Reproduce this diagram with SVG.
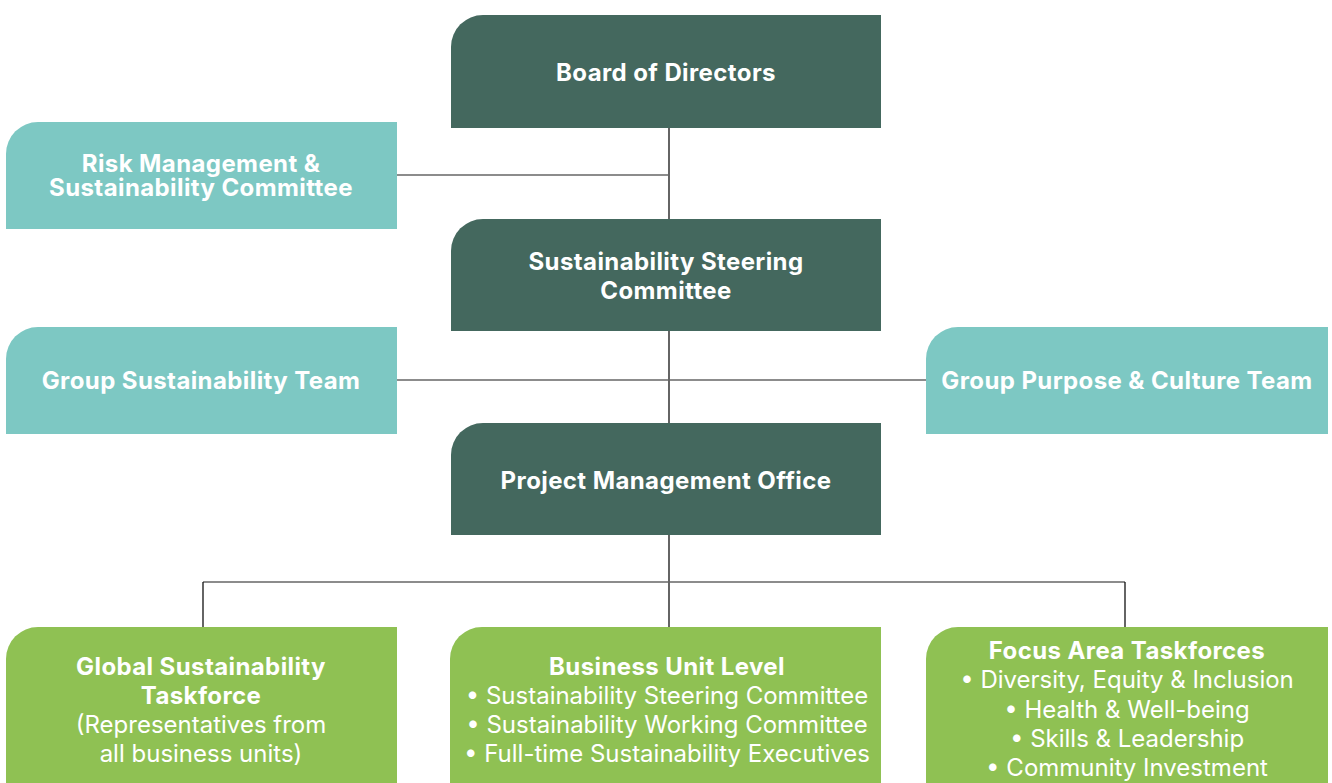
<svg xmlns="http://www.w3.org/2000/svg" width="1332" height="783" viewBox="0 0 1332 783">
<style>
.dark{fill:#44685E}
.teal{fill:#7DC8C3}
.green{fill:#8FC153}
.h{font-family:Inter,"Liberation Sans",sans-serif;font-weight:700;font-size:24px;letter-spacing:0.4px;fill:#fff;text-anchor:middle}
.r{font-family:Inter,"Liberation Sans",sans-serif;font-weight:400;font-size:24px;fill:#fff;text-anchor:middle}
.v{stroke:#111;stroke-width:1.3;fill:none}
.hz{stroke:#666;stroke-width:1.5;fill:none}
</style>
<rect width="1332" height="783" fill="#fff"/>
<g id="connectors">
<path class="v" d="M669 128V219"/>
<path class="hz" d="M397 175H669"/>
<path class="v" d="M669 331V423"/>
<path class="hz" d="M397 380H926"/>
<path class="v" d="M669 535V628"/>
<path class="hz" d="M203 582H1125"/>
<path class="v" d="M203 582V628"/>
<path class="v" d="M1125 582V628"/>
</g>
<g id="board">
<path class="dark" d="M483 15H881V128H451V47A32 32 0 0 1 483 15Z"/>
<text class="h" x="666" y="81">Board of Directors</text>
</g>
<g id="risk">
<path class="teal" d="M38 122H397V229H6V154A32 32 0 0 1 38 122Z"/>
<text class="h" x="201" y="172">Risk Management &amp;</text>
<text class="h" x="201" y="196">Sustainability Committee</text>
</g>
<g id="steering">
<path class="dark" d="M483 219H881V331H451V251A32 32 0 0 1 483 219Z"/>
<text class="h" x="666" y="270">Sustainability Steering</text>
<text class="h" x="666" y="299">Committee</text>
</g>
<g id="gst">
<path class="teal" d="M38 327H397V434H6V359A32 32 0 0 1 38 327Z"/>
<text class="h" x="201" y="389">Group Sustainability Team</text>
</g>
<g id="gpc">
<path class="teal" d="M958 327H1328V434H926V359A32 32 0 0 1 958 327Z"/>
<text class="h" x="1127" y="389">Group Purpose &amp; Culture Team</text>
</g>
<g id="pmo">
<path class="dark" d="M483 423H881V535H451V455A32 32 0 0 1 483 423Z"/>
<text class="h" x="666" y="489">Project Management Office</text>
</g>
<g id="global">
<path class="green" d="M38 627H397V790H6V659A32 32 0 0 1 38 627Z"/>
<text class="h" x="201" y="675">Global Sustainability</text>
<text class="h" x="201" y="704">Taskforce</text>
<text class="r" x="201" y="733">(Representatives from</text>
<text class="r" x="201" y="762">all business units)</text>
</g>
<g id="bu">
<path class="green" d="M482 627H881V790H450V659A32 32 0 0 1 482 627Z"/>
<text class="h" x="667" y="675">Business Unit Level</text>
<text class="r" x="667" y="704">• Sustainability Steering Committee</text>
<text class="r" x="667" y="733">• Sustainability Working Committee</text>
<text class="r" x="667" y="762">• Full-time Sustainability Executives</text>
</g>
<g id="focus">
<path class="green" d="M958 627H1328V790H926V659A32 32 0 0 1 958 627Z"/>
<text class="h" x="1127" y="659">Focus Area Taskforces</text>
<text class="r" x="1127" y="688">• Diversity, Equity &amp; Inclusion</text>
<text class="r" x="1127" y="718">• Health &amp; Well-being</text>
<text class="r" x="1127" y="747">• Skills &amp; Leadership</text>
<text class="r" x="1127" y="776">• Community Investment</text>
</g>
</svg>
